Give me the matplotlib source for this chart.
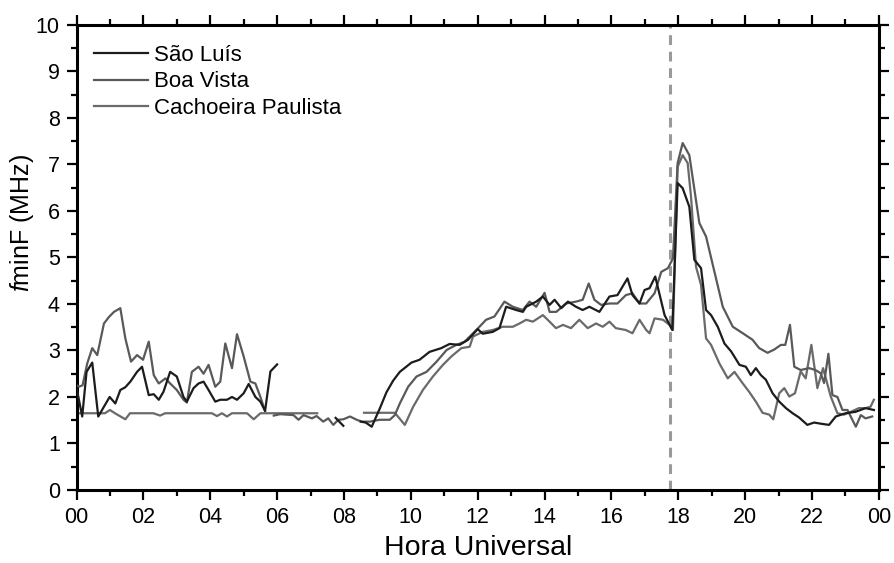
import numpy as np
import matplotlib
matplotlib.use('Agg')
import matplotlib.pyplot as plt
from matplotlib.ticker import MultipleLocator

plt.rcParams['font.family'] = ['Liberation Sans', 'DejaVu Sans']
plt.rcParams['mathtext.fontset'] = 'custom'
plt.rcParams['mathtext.rm'] = 'Liberation Sans'
plt.rcParams['mathtext.it'] = 'Liberation Sans:italic'

nan = np.nan

# Sao Luis (hours UT, fminF MHz); nan marks data gaps
sl_hour = [0.0, 0.17, 0.3, 0.47, 0.65, 0.82, 0.99, 1.16, 1.31, 1.46, 1.61, 1.81, 1.96,
           2.16, 2.31, 2.46, 2.6, 2.8, 3.0, 3.2, 3.3, 3.5, 3.65, 3.8, 3.95, 4.15, 4.3,
           4.5, 4.65, 4.8, 5.0, 5.15, 5.35, 5.5, 5.64, 5.8, 6.0,
           6.5,
           7.75, 7.98,
           8.2,
           8.5, 8.65, 8.83, 9.07, 9.27, 9.47, 9.67, 10.02, 10.26, 10.56, 10.91, 11.16,
           11.46, 11.71, 12.0, 12.15, 12.45, 12.65, 12.85, 13.15, 13.35, 13.45, 13.75,
           13.95, 14.15, 14.3, 14.5, 14.7, 14.94, 15.14, 15.34, 15.64, 15.94, 16.18,
           16.48, 16.63, 16.84, 16.99, 17.14, 17.31, 17.59, 17.82, 17.98, 18.13, 18.33,
           18.48, 18.68, 18.83, 18.98, 19.18, 19.38, 19.58, 19.83, 20.02, 20.17, 20.32,
           20.47, 20.62, 20.82, 21.02, 21.22, 21.42, 21.61, 21.86, 22.06, 22.31, 22.51,
           22.71, 23.0, 23.3, 23.6, 23.85]
sl_fmin = [2.2, 1.58, 2.54, 2.74, 1.58, 1.79, 2.0, 1.86, 2.15, 2.21, 2.33, 2.54, 2.65,
           2.04, 2.06, 1.94, 2.11, 2.54, 2.44, 2.0, 1.9, 2.19, 2.29, 2.33, 2.15, 1.9, 1.94,
           1.94, 2.0, 1.94, 2.08, 2.28, 2.0, 1.9, 1.7, 2.55, 2.7,
           nan,
           1.55, 1.38,
           nan,
           1.47, 1.45, 1.36, 1.75, 2.1, 2.35, 2.54, 2.74, 2.8, 2.97, 3.05, 3.14,
           3.12, 3.23, 3.46, 3.36, 3.4, 3.48, 3.94, 3.87, 3.83, 3.94, 4.05,
           4.16, 3.98, 4.09, 3.91, 4.05, 3.94, 3.87, 3.94, 3.83, 4.16, 4.19,
           4.55, 4.19, 4.01, 4.3, 4.34, 4.59, 3.76, 3.44, 6.6, 6.49, 6.09,
           4.95, 4.77, 3.87, 3.76, 3.51, 3.15, 2.98, 2.69, 2.65, 2.47, 2.62,
           2.47, 2.37, 2.08, 1.9, 1.76, 1.65, 1.56, 1.4, 1.45, 1.42, 1.4,
           1.58, 1.65, 1.68, 1.76, 1.72]

# Boa Vista
bv_hour = [0.0, 0.07, 0.18, 0.32, 0.47, 0.62, 0.82, 0.97, 1.12, 1.31, 1.46, 1.63, 1.81,
           1.99, 2.16, 2.31, 2.46, 2.66, 2.8, 3.0, 3.2, 3.3, 3.45, 3.65, 3.8, 3.95, 4.15,
           4.3, 4.45, 4.65, 4.8, 5.0, 5.2, 5.35, 5.5, 5.64,
           5.77,
           5.9, 6.09, 6.49, 6.64, 6.79, 7.04, 7.18, 7.38, 7.53, 7.68, 7.83, 7.98, 8.18,
           8.38, 8.53, 8.78, 9.07, 9.37, 9.52, 9.67, 9.92, 10.17, 10.47, 10.77, 11.07,
           11.36, 11.61, 11.96, 12.25, 12.5, 12.8, 13.05, 13.35, 13.55, 13.75, 14.0,
           14.15, 14.35, 14.64, 14.94, 15.14, 15.32, 15.49, 15.69, 15.94, 16.18, 16.43,
           16.63, 16.84, 17.04, 17.29, 17.49, 17.69, 17.84, 17.98, 18.13, 18.33, 18.63,
           18.83, 19.33, 19.63, 19.93, 20.22, 20.42, 20.67, 20.87, 21.07, 21.2, 21.34,
           21.47, 21.66, 21.91, 22.1, 22.26, 22.36, 22.49, 22.61, 22.76, 22.91, 23.06,
           23.31, 23.46, 23.6, 23.8]
bv_fmin = [2.25, 2.22, 2.25, 2.72, 3.05, 2.9, 3.58, 3.72, 3.83, 3.91, 3.26, 2.76, 2.9,
           2.8, 3.19, 2.47, 2.29, 2.4, 2.29, 2.15, 1.94, 1.88, 2.54, 2.65, 2.5, 2.69, 2.22,
           2.33, 3.15, 2.62, 3.35, 2.87, 2.33, 2.29, 2.0, 1.7,
           nan,
           1.6, 1.63, 1.61, 1.51, 1.61, 1.54, 1.59, 1.47, 1.54, 1.4, 1.51, 1.52, 1.58,
           1.51, 1.47, 1.47, 1.51, 1.51, 1.61, 1.86, 2.22, 2.44, 2.54, 2.76, 3.01,
           3.12, 3.19, 3.44, 3.66, 3.73, 4.05, 3.94, 3.87, 4.05, 3.94, 4.24,
           3.83, 3.83, 4.01, 4.05, 4.09, 4.44, 4.09, 3.98, 4.01, 4.01, 4.19,
           4.23, 4.01, 4.01, 4.23, 4.69, 4.77, 4.98, 7.03, 7.46, 7.2, 5.74,
           5.45, 3.94, 3.51, 3.37, 3.23, 3.05, 2.95, 3.02, 3.12, 3.12, 3.55,
           2.65, 2.58, 2.62, 2.58, 2.51, 2.3, 2.93, 2.04, 2.0, 1.72, 1.72,
           1.36, 1.61, 1.54, 1.58]

# Cachoeira Paulista
cp_hour = [0.0, 0.85, 1.0, 1.15, 1.46, 1.6, 2.3, 2.5, 2.65, 4.05, 4.2, 4.35, 4.5, 4.65,
           5.1, 5.3, 5.5, 6.0, 6.5, 7.2,
           7.9,
           8.6, 9.0, 9.52, 9.82, 10.07, 10.36, 10.66, 10.96, 11.21, 11.51, 11.76, 11.86,
           12.15, 12.45, 12.75, 13.05, 13.25, 13.45, 13.65, 13.95, 14.15, 14.34, 14.55,
           14.79, 15.04, 15.29, 15.54, 15.74, 15.94, 16.13, 16.43, 16.63, 16.84, 17.04,
           17.14, 17.29, 17.54, 17.74, 17.84, 17.98, 18.13, 18.28, 18.38, 18.53, 18.68,
           18.83, 18.98, 19.23, 19.48, 19.68, 19.93, 20.12, 20.32, 20.52, 20.72, 20.84,
           21.02, 21.17, 21.32, 21.49, 21.66, 21.81, 21.98, 22.16, 22.33, 22.56, 22.76,
           22.96, 23.16, 23.4, 23.6, 23.75, 23.85]
cp_fmin = [1.65, 1.65, 1.72, 1.65, 1.52, 1.65, 1.65, 1.6, 1.65, 1.65, 1.59, 1.65, 1.58, 1.65,
           1.65, 1.52, 1.65, 1.65, 1.65, 1.65,
           nan,
           1.66, 1.66, 1.66, 1.4, 1.79, 2.15, 2.44, 2.69, 2.87, 3.05, 3.08, 3.3,
           3.4, 3.44, 3.51, 3.51, 3.58, 3.66, 3.62, 3.76, 3.62, 3.48, 3.55,
           3.48, 3.66, 3.48, 3.58, 3.51, 3.62, 3.48, 3.44, 3.37, 3.66, 3.44,
           3.37, 3.69, 3.66, 3.55, 3.44, 6.95, 7.2, 7.03, 6.31, 4.8, 4.41,
           3.26, 3.12, 2.72, 2.4, 2.54, 2.29, 2.11, 1.9, 1.66, 1.62, 1.52,
           2.08, 2.19, 2.01, 2.08, 2.55, 2.4, 3.12, 2.19, 2.62, 2.01, 1.65,
           1.62, 1.68, 1.76, 1.76, 1.79, 1.94]

event_hour = 17.75
xtick_labels = ['00', '02', '04', '06', '08', '10', '12', '14', '16', '18', '20', '22', '00']

fig = plt.figure(figsize=(8.95, 5.63), dpi=100)
ax = fig.add_axes([0.0855, 0.1297, 0.8965, 0.826])

ax.axvline(event_hour, color='#9a9a9a', lw=2.2, ls=(0, (3.2, 2.2)), zorder=1)
ax.plot(sl_hour, sl_fmin, color='#1c1c1c', lw=1.6, label='São Luís', zorder=4)
ax.plot(bv_hour, bv_fmin, color='#595959', lw=1.6, label='Boa Vista', zorder=3)
ax.plot(cp_hour, cp_fmin, color='#6a6a6a', lw=1.6, label='Cachoeira Paulista', zorder=2)

ax.set_xlim(0, 24)
ax.set_ylim(0, 10)
ax.set_xticks(np.arange(0, 25, 2))
ax.set_xticklabels(xtick_labels)
ax.xaxis.set_minor_locator(MultipleLocator(1))
ax.yaxis.set_major_locator(MultipleLocator(1))
ax.yaxis.set_minor_locator(MultipleLocator(0.5))

for side in ['left', 'right', 'top', 'bottom']:
    ax.spines[side].set_linewidth(2.2)
ax.tick_params(which='both', direction='out', top=True, right=True, width=1.6)
ax.tick_params(which='major', length=7, labelsize=15.5, pad=5)
ax.tick_params(which='minor', length=4.5)

ax.set_xlabel('Hora Universal', fontsize=20.5, labelpad=5)
ax.set_ylabel(r'$\mathit{f}$minF (MHz)', fontsize=18)
ax.yaxis.set_label_coords(-0.05, 0.574)

ax.legend(loc='upper left', bbox_to_anchor=(0.0, 0.996), frameon=False, fontsize=16,
          handlelength=2.4, handletextpad=0.27, labelspacing=0.26, borderaxespad=0.4)

fig.savefig('out.png', dpi=100)
